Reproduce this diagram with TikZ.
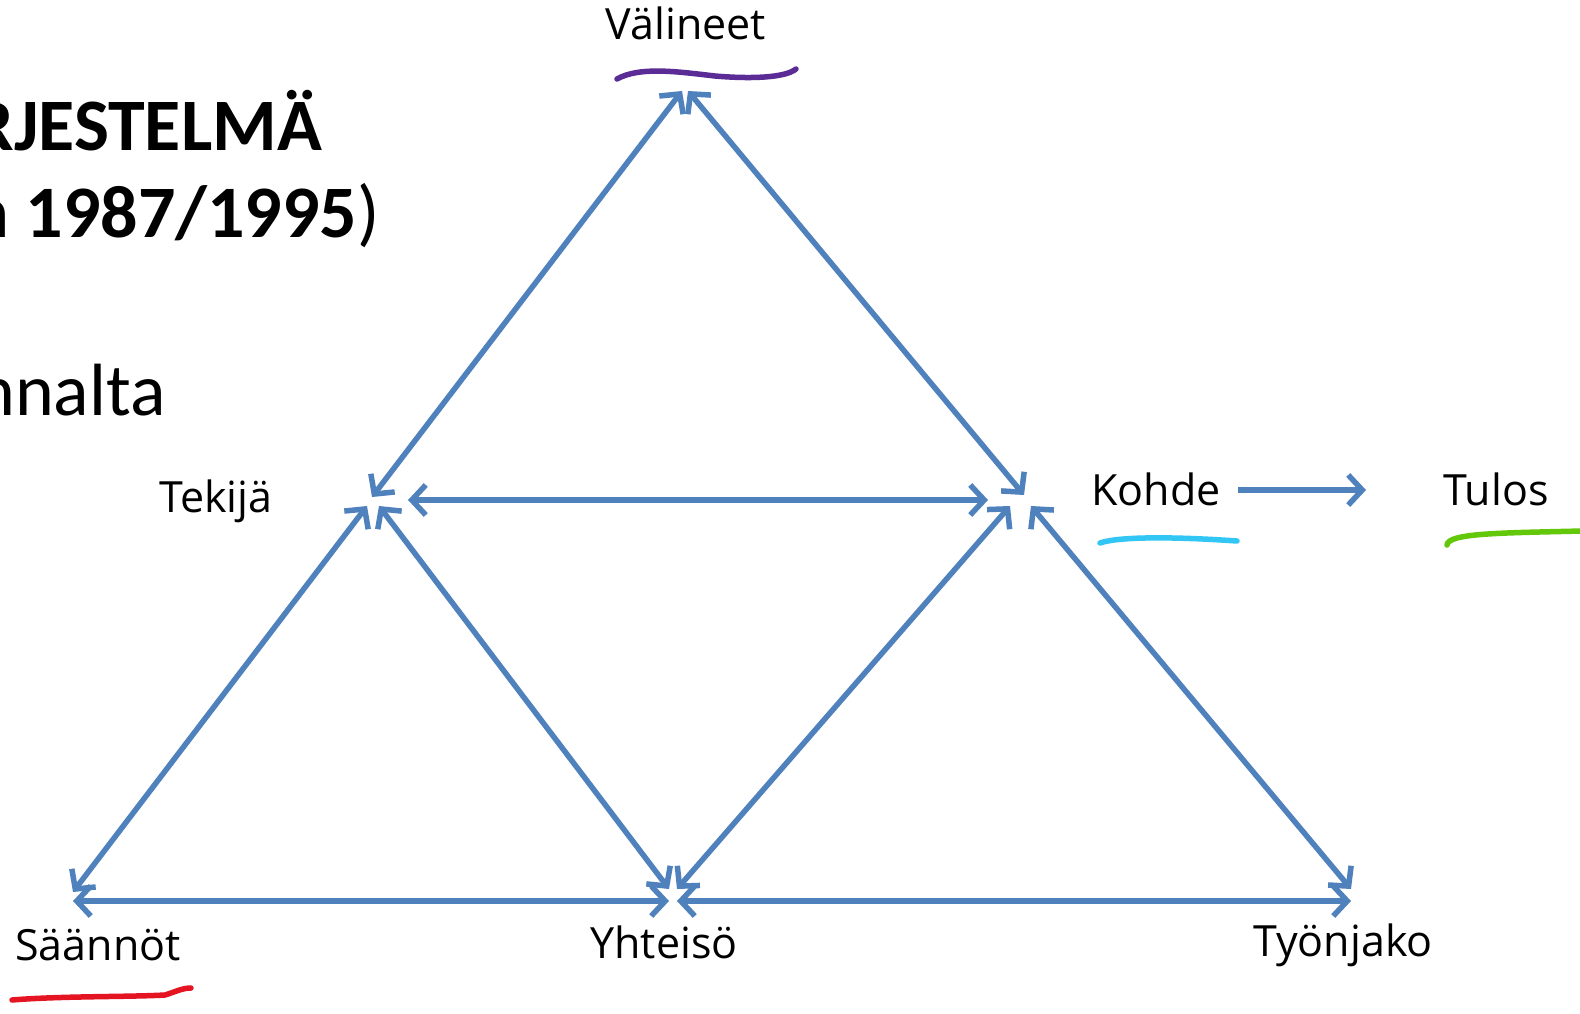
\documentclass[tikz,border=0pt]{standalone}
\usepackage{fontspec}
\setmainfont{Open Sans}
\newfontfamily\titlefont{Carlito}
\usetikzlibrary{arrows.meta}
\definecolor{arrowblue}{RGB}{79,129,189}
\definecolor{penpurple}{RGB}{92,44,150}
\definecolor{pencyan}{RGB}{50,198,245}
\definecolor{pengreen}{RGB}{100,200,10}
\definecolor{penred}{RGB}{228,20,35}
\tikzset{
  barb/.tip={Straight Barb[length=14pt,width=30pt,line width=5.5pt]},
  link/.style={draw=arrowblue, line width=5.5pt, barb-barb},
  onelink/.style={draw=arrowblue, line width=5.5pt, -barb},
  lbl/.style={font=\fontsize{43}{50}\selectfont, inner sep=0pt, anchor=base},
  ttl/.style={font=\titlefont\fontsize{74}{88}\selectfont, inner sep=0pt, anchor=base east},
  pen/.style={line width=5.5pt, line cap=round}
}
\begin{document}
\begin{tikzpicture}[x=1pt,y=-1pt]
\useasboundingbox (0,0) rectangle (1580,1014);
\clip (0,0) rectangle (1580,1014);
\fill[white] (0,0) rectangle (1580,1014);

% title fragments
\node[ttl] (t1) at (322,150) {\bfseries RJESTELMÄ};
\node[ttl] (t2) at (380,237) {\bfseries n 1987/1995\mdseries)};
\node[ttl] (t3) at (166,415) {nnalta};

% labels
\node[lbl] (valineet) at (686,40) {Välineet};
\node[lbl] (tekija) at (216,512) {Tekijä};
\node[lbl] (kohde) at (1156,505) {Kohde};
\node[lbl] (tulos) at (1496,505) {Tulos};
\node[lbl] (saannot) at (98,960) {Säännöt};
\node[lbl] (yhteiso) at (664,958) {Yhteisö};
\node[lbl] (tyonjako) at (1343,956) {Työnjako};

% arrow endpoints
\coordinate (Vl) at (682,91);
\coordinate (Vr) at (688,91);
\coordinate (Ta) at (372,497);
\coordinate (Tb) at (367,506);
\coordinate (Tc) at (379,506);
\coordinate (Th) at (408,500);
\coordinate (Ka) at (1024,495);
\coordinate (Kb) at (1010,506);
\coordinate (Kc) at (1031,506);
\coordinate (Kh) at (988,500);
\coordinate (Sa) at (73,892);
\coordinate (Sh) at (73,901);
\coordinate (Ya) at (669,889);
\coordinate (Yb) at (677,889);
\coordinate (Yl) at (669,901);
\coordinate (Yr) at (677,901);
\coordinate (Wa) at (1351,889);
\coordinate (Wh) at (1351,901);
\coordinate (Kout) at (1238,490);
\coordinate (Tin) at (1366,490);

\draw[link] (Ta) -- (Vl);
\draw[link] (Vr) -- (Ka);
\draw[link] (Th) -- (Kh);
\draw[link] (Tb) -- (Sa);
\draw[link] (Tc) -- (Ya);
\draw[link] (Kb) -- (Yb);
\draw[link] (Kc) -- (Wa);
\draw[link] (Sh) -- (Yl);
\draw[link] (Yr) -- (Wh);
\draw[onelink] (Kout) -- (Tin);

% hand-drawn underlines
\draw[pen, penpurple] (617,79) .. controls (640,66) and (680,72) .. (715,76) .. controls (750,79) and (785,78) .. (796,69);
\draw[pen, pencyan] (1100,543) .. controls (1120,536) and (1180,537) .. (1237,541);
\draw[pen, pengreen] (1447,545) .. controls (1448,533) and (1500,533) .. (1582,531);
\draw[pen, penred] (12,1000) .. controls (60,996) and (130,997) .. (165,995) .. controls (175,992) and (182,988) .. (191,988);
\end{tikzpicture}
\end{document}
